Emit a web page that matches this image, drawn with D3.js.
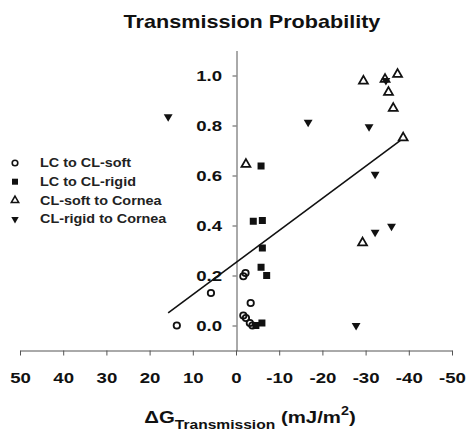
<!DOCTYPE html>
<html>
<head>
<meta charset="utf-8">
<script src="https://cdn.jsdelivr.net/npm/d3@7"></script>
<style>
body{margin:0;background:#fff;}
svg{font-family:Arial,"Liberation Sans",sans-serif;}
</style>
</head>
<body>
<svg id="chart" width="466" height="431"></svg>
<script>
// data (x = ΔG, y = probability)
const lcSoftX=[13.7,5.8,-1.7,-2.2,-3.4,-1.7,-2.3,-3.2,-3.8]
const lcSoftY=[0.0,0.13,0.197,0.21,0.09,0.04,0.03,0.01,0.0]
const lcRigidX=[-5.8,-4.0,-6.1,-6.1,-5.8,-7.1,-6.0,-4.6]
const lcRigidY=[0.638,0.417,0.42,0.31,0.233,0.2,0.01,0.0]
const softCorneaX=[-2.3,-29.5,-34.5,-37.4,-35.3,-36.4,-38.7,-29.3]
const softCorneaY=[0.645,0.978,0.985,1.005,0.933,0.869,0.751,0.331]
const rigidCorneaX=[15.7,-16.7,-30.8,-32.2,-32.2,-36.0,-34.7,-27.8]
const rigidCorneaY=[0.835,0.813,0.795,0.605,0.373,0.397,0.98,0.0]
const xTicks=[50,40,30,20,10,0,-10,-20,-30,-40,-50]
const yTicks=[0.0,0.2,0.4,0.6,0.8,1.0]
const seriesNames=["LC to CL-soft","LC to CL-rigid","CL-soft to Cornea","CL-rigid to Cornea"]
const fitIntercept=0.252, fitSlope=-0.01284

// the original's lettering is a bit wide, so text gets stretched sideways
const sx=1.2
const svg=d3.select("#chart")
const x=d3.scaleLinear().domain([50,-50]).range([20,452])
const y=d3.scaleLinear().domain([-0.1,1.1]).range([350.5,50.5])

svg.append("text").attr("x",252/sx).attr("y",28).attr("text-anchor","middle")
   .attr("transform",`scale(${sx},1)`)
   .attr("font-size",18).attr("font-weight","bold").attr("fill","#111")
   .text("Transmission Probability")

const xAxis=svg.append("g").attr("transform","translate(0,350.5)")
   .call(d3.axisBottom(x).tickValues(xTicks).tickFormat(d=>String(d)).tickSize(5).tickSizeOuter(0))
xAxis.select(".domain").attr("stroke","#555")
xAxis.selectAll(".tick line").attr("stroke","#555")
xAxis.selectAll("text").attr("font-size",15.5).attr("font-weight","bold").attr("fill","#111")
   .attr("y",33).attr("dy",0).attr("transform",`scale(${sx},1)`)
   .attr("font-family","Arial,'Liberation Sans',sans-serif")

const yAxis=svg.append("g").attr("transform","translate(236.5,0)")
   .call(d3.axisLeft(y).tickValues(yTicks).tickFormat(d3.format(".1f")).tickSize(4).tickSizeOuter(0))
yAxis.select(".domain").attr("stroke","#555")
yAxis.selectAll(".tick line").attr("stroke","#555")
yAxis.selectAll("text").attr("font-size",15.5).attr("font-weight","bold").attr("fill","#111")
   .attr("x",-14.5/sx).attr("transform",`scale(${sx},1)`)
   .attr("font-family","Arial,'Liberation Sans',sans-serif")

// regression line over data extent
const allX=[...lcSoftX,...lcRigidX,...softCorneaX,...rigidCorneaX]
const ext=d3.extent(allX)
svg.append("line")
   .attr("x1",x(ext[1])).attr("y1",y(fitIntercept+fitSlope*ext[1]))
   .attr("x2",x(ext[0])).attr("y2",y(fitIntercept+fitSlope*ext[0]))
   .attr("stroke","#111").attr("stroke-width",1.6)

const triUp=d3.symbol().type(d3.symbolTriangle).size(34)
const drawSeries=(xs,ys,kind)=>{
    const pts=xs.map((v,i)=>[v,ys[i]])
    const g=svg.append("g")
    pts.forEach(p=>{
        const cx=x(p[0]), cy=y(p[1])
        if(kind==="circle"){
            g.append("circle").attr("cx",cx).attr("cy",cy).attr("r",3.2)
             .attr("fill","none").attr("stroke","#111").attr("stroke-width",1.8)
        }else if(kind==="square"){
            g.append("rect").attr("x",cx-3.5).attr("y",cy-3.5).attr("width",7).attr("height",7).attr("fill","#111")
        }else if(kind==="up"){
            g.append("path").attr("d",triUp).attr("transform",`translate(${cx},${cy})`)
             .attr("fill","#fff").attr("stroke","#111").attr("stroke-width",1.8)
        }else{
            g.append("path").attr("d",triUp).attr("transform",`translate(${cx},${cy}) rotate(180)`)
             .attr("fill","#111")
        }
    })
}
drawSeries(lcSoftX,lcSoftY,"circle")
drawSeries(lcRigidX,lcRigidY,"square")
drawSeries(softCorneaX,softCorneaY,"up")
drawSeries(rigidCorneaX,rigidCorneaY,"down")

// legend
const kinds=["circle","square","up","down"]
const legend=svg.append("g")
seriesNames.forEach((name,i)=>{
    const ly=163+i*18.7
    const k=kinds[i]
    if(k==="circle") legend.append("circle").attr("cx",15).attr("cy",ly).attr("r",2.8).attr("fill","none").attr("stroke","#111").attr("stroke-width",1.6)
    else if(k==="square") legend.append("rect").attr("x",12).attr("y",ly-3).attr("width",6).attr("height",6).attr("fill","#111")
    else if(k==="up") legend.append("path").attr("d",d3.symbol().type(d3.symbolTriangle).size(24)).attr("transform",`translate(15,${ly})`).attr("fill","#fff").attr("stroke","#111").attr("stroke-width",1.5)
    else legend.append("path").attr("d",d3.symbol().type(d3.symbolTriangle).size(24)).attr("transform",`translate(15,${ly}) rotate(180)`).attr("fill","#111")
    legend.append("text").attr("x",40/sx).attr("y",ly).attr("dy","0.35em").attr("transform",`scale(${sx},1)`)
        .attr("font-size",12).attr("font-weight","bold").attr("fill","#222").text(name)
})

// x axis title
const xt=svg.append("text").attr("x",250/sx).attr("y",423).attr("text-anchor","middle")
   .attr("transform",`scale(${sx},1)`)
   .attr("font-size",17).attr("font-weight","bold").attr("fill","#111")
xt.append("tspan").text("\u0394G")
xt.append("tspan").attr("font-size",13).attr("dy",6).text("Transmission")
xt.append("tspan").attr("dy",-6).text(" (mJ/m")
xt.append("tspan").attr("font-size",12).attr("dy",-8).text("2")
xt.append("tspan").attr("dy",8).text(")")
</script>
</body>
</html>
